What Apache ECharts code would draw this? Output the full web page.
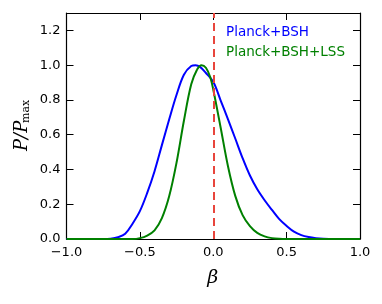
<!DOCTYPE html>
<html><head><meta charset="utf-8">
<script src="https://cdn.jsdelivr.net/npm/echarts@6/dist/echarts.min.js"></script>
<style>html,body{margin:0;padding:0;background:#fff}#c{width:382px;height:304px}</style>
</head><body><div id="c"></div>
<script>
const xTicks = [-1.0, -0.5, 0.0, 0.5, 1.0];
const yTicks = [0.0, 0.2, 0.4, 0.6, 0.8, 1.0, 1.2];
const seriesNames = ['Planck+BSH', 'Planck+BSH+LSS'];
const blueX = [-1.0, -0.75, -0.70, -0.65, -0.60, -0.55, -0.50, -0.45, -0.40, -0.35, -0.30, -0.25, -0.20, -0.15, -0.12, -0.09, -0.05, 0.00, 0.05, 0.10, 0.15, 0.20, 0.25, 0.30, 0.35, 0.40, 0.45, 0.50, 0.55, 0.60, 0.65, 0.70, 0.75, 0.85, 1.0];
const blueY = [0, 0, 0.002, 0.01, 0.03, 0.088, 0.16, 0.265, 0.39, 0.54, 0.689, 0.83, 0.945, 0.995, 1.0, 0.99, 0.955, 0.904, 0.798, 0.689, 0.578, 0.465, 0.365, 0.286, 0.223, 0.167, 0.114, 0.075, 0.042, 0.022, 0.011, 0.005, 0.002, 0.0005, 0];
const greenX = [-1.0, -0.55, -0.50, -0.45, -0.40, -0.35, -0.30, -0.25, -0.20, -0.15, -0.11, -0.08, -0.05, -0.02, 0.00, 0.05, 0.10, 0.15, 0.20, 0.25, 0.30, 0.35, 0.40, 0.45, 0.50, 1.0];
const greenY = [0, 0, 0.005, 0.02, 0.05, 0.12, 0.247, 0.44, 0.68, 0.89, 0.975, 1.0, 0.985, 0.93, 0.86, 0.643, 0.42, 0.248, 0.137, 0.074, 0.035, 0.015, 0.005, 0.001, 0, 0];
const refLineX = 0.0;

const toPairs = (xs, ys) => xs.map((x, i) => [x, ys[i]]);
const fmt = v => v.toFixed(1).replace('-', '\u2212');
const tickFont = {fontFamily: 'DejaVu Sans', fontSize: 13, color: '#000'};

const chart = echarts.init(document.getElementById('c'), null, {renderer: 'canvas'});
const grid = {left: 66.5, right: 22, top: 13, bottom: 65};
const axisLineStyle = {show: true, onZero: false, lineStyle: {color: '#000', width: 1.2}};
const tickStyle = {show: true, inside: true, length: 7, lineStyle: {color: '#000', width: 1}};
chart.setOption({
  animation: false,
  grid: grid,
  xAxis: [
    {type: 'value', min: xTicks[0], max: xTicks[xTicks.length - 1], interval: 0.5, position: 'bottom',
     axisLine: axisLineStyle, axisTick: tickStyle, splitLine: {show: false},
     axisLabel: Object.assign({margin: 7, formatter: fmt}, tickFont)},
    {type: 'value', min: xTicks[0], max: xTicks[xTicks.length - 1], interval: 0.5, position: 'top',
     axisLine: axisLineStyle, axisTick: tickStyle, splitLine: {show: false}, axisLabel: {show: false}}
  ],
  yAxis: [
    {type: 'value', min: yTicks[0], max: 1.3, interval: 0.2, position: 'left',
     axisLine: axisLineStyle, axisTick: tickStyle, splitLine: {show: false},
     axisLabel: Object.assign({margin: 6, showMaxLabel: false, formatter: fmt}, tickFont)},
    {type: 'value', min: yTicks[0], max: 1.3, interval: 0.2, position: 'right',
     axisLine: axisLineStyle, axisTick: tickStyle, splitLine: {show: false}, axisLabel: {show: false}}
  ],
  legend: {
    orient: 'vertical', left: 216, top: 20, icon: 'none', itemWidth: 0, itemHeight: 14, itemGap: 6,
    selectedMode: false,
    data: [
      {name: seriesNames[0], textStyle: {color: '#0000ff', fontFamily: 'DejaVu Sans', fontSize: 13.5}},
      {name: seriesNames[1], textStyle: {color: '#008000', fontFamily: 'DejaVu Sans', fontSize: 13.5}}
    ]
  },
  series: [
    {name: seriesNames[0], type: 'line', data: toPairs(blueX, blueY), smooth: 0.35, showSymbol: false,
     lineStyle: {color: '#0000ff', width: 2}, itemStyle: {color: '#0000ff'}},
    {name: seriesNames[1], type: 'line', data: toPairs(greenX, greenY), smooth: 0.35, showSymbol: false,
     lineStyle: {color: '#008000', width: 2}, itemStyle: {color: '#008000'},
     markLine: {silent: true, symbol: 'none', label: {show: false},
       lineStyle: {color: '#e8453c', type: [8, 5], width: 2},
       data: [{xAxis: refLineX}]}}
  ],
  graphic: [
    {type: 'group', x: 22, y: 126, rotation: Math.PI / 2, children: [
      {type: 'text', x: -25, y: 0, style: {text: 'P/P', fontFamily: 'DejaVu Serif', fontStyle: 'italic', fontSize: 18, fill: '#000', textAlign: 'left', textVerticalAlign: 'middle'}},
      {type: 'text', x: 3, y: 4, style: {text: 'max', fontFamily: 'DejaVu Serif', fontSize: 11, fill: '#000', textAlign: 'left', textVerticalAlign: 'middle'}}
    ]},
    {type: 'text', x: 212.7, y: 278, style: {text: 'β', fontFamily: 'DejaVu Serif', fontStyle: 'italic', fontSize: 19, fill: '#000', textAlign: 'center', textVerticalAlign: 'middle'}}
  ]
});
</script></body></html>
